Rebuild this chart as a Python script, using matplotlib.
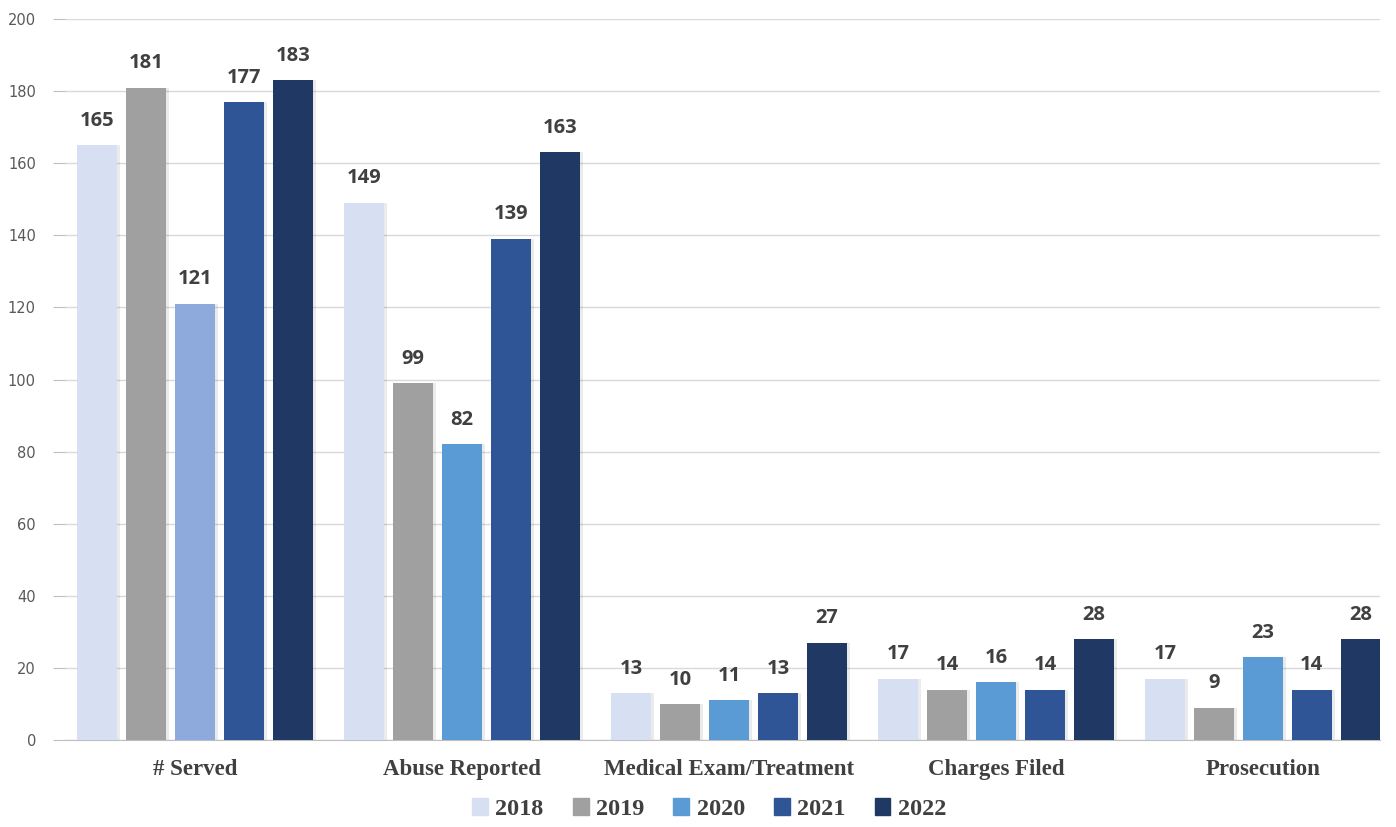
import numpy as np
import matplotlib
matplotlib.use("Agg")
import matplotlib.pyplot as plt
from matplotlib.patches import Patch

categories = ["# Served", "Abuse Reported", "Medical Exam/Treatment", "Charges Filed", "Prosecution"]
years = ["2018", "2019", "2020", "2021", "2022"]
v2018 = [165, 149, 13, 17, 17]
v2019 = [181, 99, 10, 14, 9]
v2020 = [121, 82, 11, 16, 23]
v2021 = [177, 139, 13, 14, 14]
v2022 = [183, 163, 27, 28, 28]
series = [v2018, v2019, v2020, v2021, v2022]

colors = ["#D6E0F2", "#A0A0A0", "#5B9BD5", "#2F5597", "#203864"]
# the 2020 bar in the first group is a paler blue in the original
colors_2020 = ["#8EA9DB", "#5B9BD5", "#5B9BD5", "#5B9BD5", "#5B9BD5"]

fig = plt.figure(figsize=(13.96, 8.27), dpi=100)
ax = fig.add_axes([0.0466, 0.1052, 0.9419, 0.8718])

x = np.arange(len(categories))
pitch = 0.183
width = 0.15
for i, vals in enumerate(series):
    pos = x + (i - 2) * pitch
    c = colors_2020 if i == 2 else colors[i]
    # soft shadow
    ax.bar(pos + 0.006, vals, width=width + 0.01, color="#000000", alpha=0.08, zorder=2)
    bars = ax.bar(pos, vals, width=width, color=c, zorder=3)
    for b, v in zip(bars, vals):
        ax.text(b.get_x() + b.get_width() / 2, v + 4, str(v), ha="center", va="bottom",
                fontsize=14.5, fontweight="bold", color="#404040", family="Open Sans", zorder=4)

ax.set_ylim(0, 200)
ax.set_xlim(-0.487, 4.438)
ax.set_yticks(range(0, 201, 20))
ax.yaxis.grid(True, color="#D9D9D9", linewidth=1)
ax.set_axisbelow(True)
for s in ["top", "right", "left"]:
    ax.spines[s].set_visible(False)
ax.spines["bottom"].set_color("#BFBFBF")
ax.tick_params(axis="y", length=9, color="#BFBFBF", labelcolor="#595959", labelsize=10.5, pad=12)
ax.tick_params(axis="x", length=0, pad=14)
ax.set_xticks(x)
ax.set_xticklabels(categories, family="Liberation Serif", fontweight="bold", fontsize=16.5, color="#404040")

handles = [Patch(color=colors[i], label=years[i]) for i in range(5)]
leg = fig.legend(handles=handles, loc="lower center", bbox_to_anchor=(0.508, -0.018), ncol=5,
                 frameon=False, handlelength=0.65, handleheight=0.65, handletextpad=0.3, columnspacing=1.2,
                 prop={"family": "Liberation Serif", "weight": "bold", "size": 17.5})
for t in leg.get_texts():
    t.set_color("#404040")

fig.savefig("out.png", dpi=100)
